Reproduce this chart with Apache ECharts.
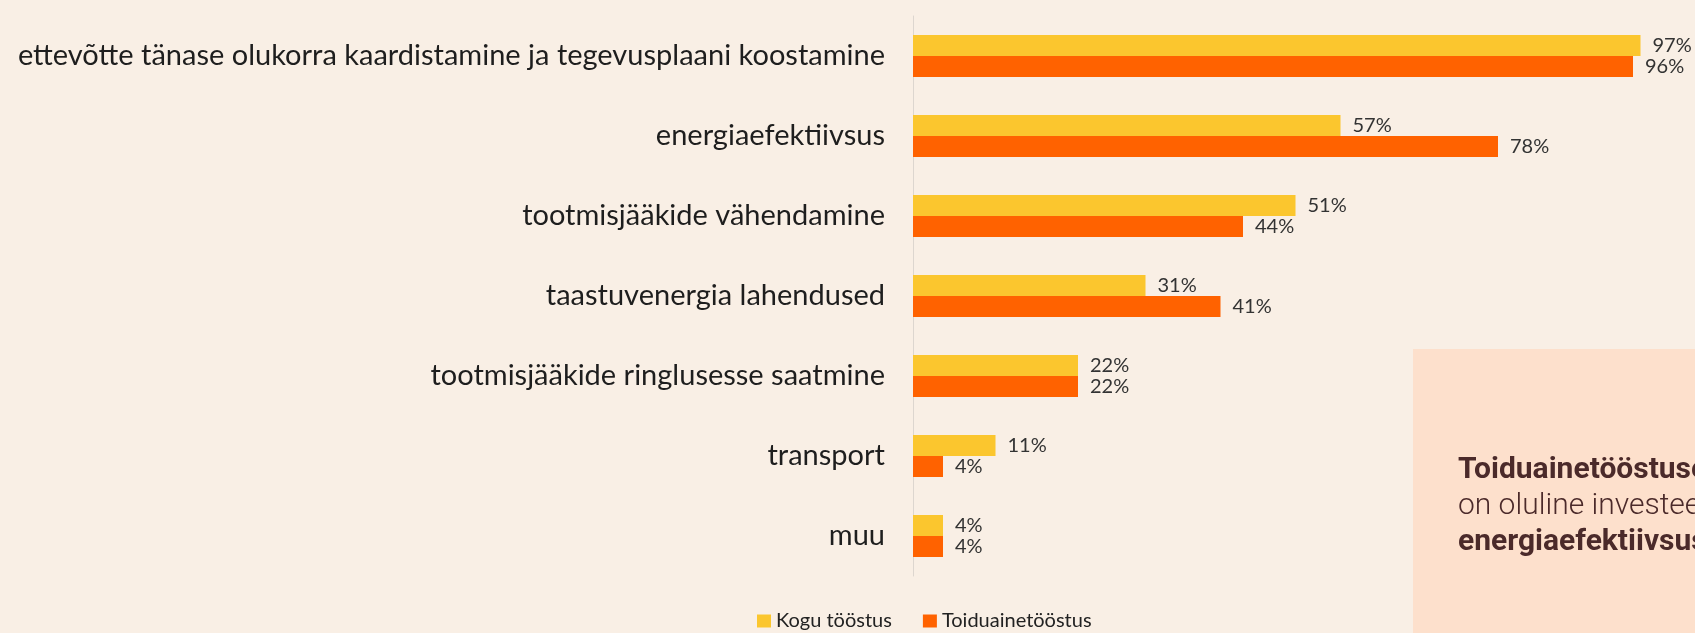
<!DOCTYPE html>
<html>
<head>
<meta charset="utf-8">
<script src="https://cdn.jsdelivr.net/npm/echarts@6/dist/echarts.min.js"></script>
<style>
  html, body { margin: 0; padding: 0; background: #f9efe5; }
  #main { width: 1695px; height: 633px; }
</style>
</head>
<body>
<div id="main"></div>
<script>
// andmed
var categories = [
  'ettevõtte tänase olukorra kaardistamine ja tegevusplaani koostamine',
  'energiaefektiivsus',
  'tootmisjääkide vähendamine',
  'taastuvenergia lahendused',
  'tootmisjääkide ringlusesse saatmine',
  'transport',
  'muu'
];
var koguTööstus = [97, 57, 51, 31, 22, 11, 4];
var toiduainetööstus = [96, 78, 44, 41, 22, 4, 4];
var seriesNames = ['Kogu tööstus', 'Toiduainetööstus'];
var calloutLines = ['Toiduainetööstuse', 'on oluline investeerida', 'energiaefektiivsusse'];

var chart = echarts.init(document.getElementById('main'));

var labelStyle = {
  show: true,
  position: 'right',
  distance: 12,
  formatter: '{c}%',
  fontFamily: 'Lato',
  fontSize: 20,
  color: '#333'
};

var option = {
  backgroundColor: '#f9efe5',
  animation: false,
  grid: {
    left: 913,
    right: 32,
    top: 16,
    bottom: 57,
    outerBoundsMode: 'none'
  },
  legend: {
    data: seriesNames,
    left: 757,
    top: 611,
    padding: 0,
    itemWidth: 14,
    itemHeight: 13,
    itemGap: 31,
    icon: 'rect',
    textStyle: { fontFamily: 'Lato', fontSize: 20, color: '#222' }
  },
  xAxis: {
    type: 'value',
    min: 0,
    max: 100,
    show: false
  },
  yAxis: {
    type: 'category',
    data: categories,
    inverse: true,
    axisLine: { show: true, lineStyle: { color: '#ddd6cf', width: 1 } },
    axisTick: { show: false },
    axisLabel: {
      margin: 28,
      fontFamily: 'Lato',
      fontSize: 29,
      color: '#1e1e1e'
    }
  },
  series: [
    {
      name: seriesNames[0],
      type: 'bar',
      data: koguTööstus,
      barWidth: 21,
      barGap: '0%',
      itemStyle: { color: '#fbc62e' },
      label: labelStyle
    },
    {
      name: seriesNames[1],
      type: 'bar',
      data: toiduainetööstus,
      barWidth: 21,
      itemStyle: { color: '#ff6200' },
      label: labelStyle
    }
  ],
  // kõrvalkast paremal all
  graphic: [
    {
      type: 'rect',
      left: 1413,
      top: 349,
      shape: { width: 300, height: 300 },
      style: { fill: '#fde0cc' }
    },
    {
      type: 'text',
      left: 1458,
      top: 455,
      style: { text: calloutLines[0], font: 'bold 30px Roboto', fill: '#4b2a2a' }
    },
    {
      type: 'text',
      left: 1458,
      top: 491,
      style: { text: calloutLines[1], font: '300 30px Roboto', fill: '#4b2a2a' }
    },
    {
      type: 'text',
      left: 1458,
      top: 527,
      style: { text: calloutLines[2], font: 'bold 30px Roboto', fill: '#4b2a2a' }
    }
  ]
};

chart.setOption(option);
</script>
</body>
</html>
